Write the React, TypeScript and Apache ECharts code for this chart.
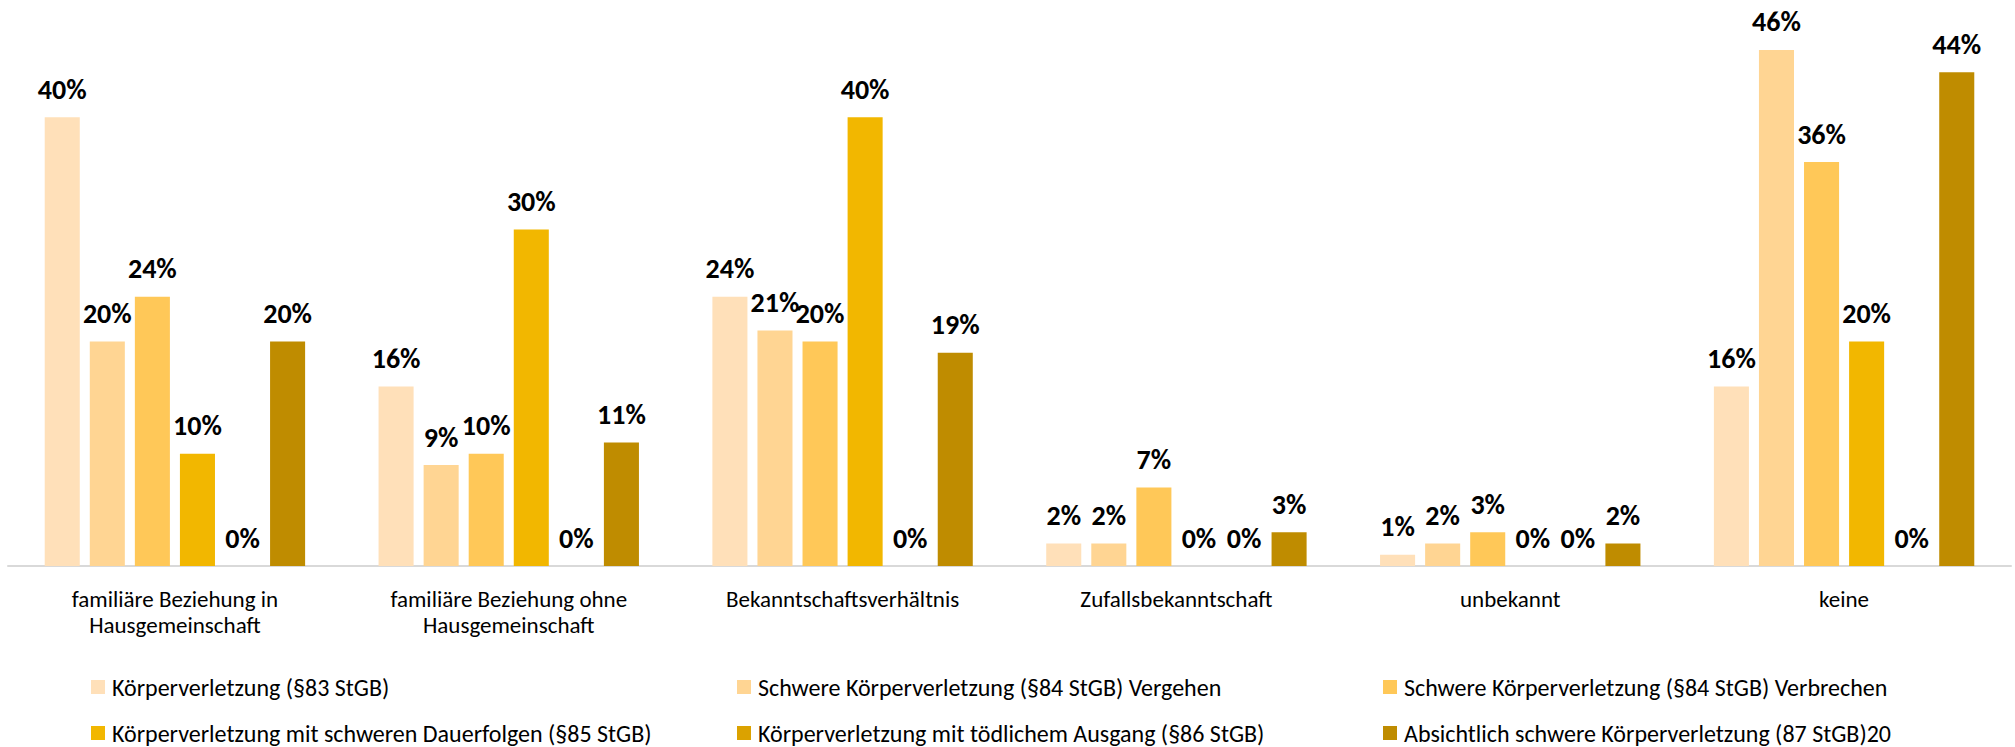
import React, { useEffect, useRef } from "react";
import * as echarts from "echarts";

const categories = [
  "familiäre Beziehung in\nHausgemeinschaft",
  "familiäre Beziehung ohne\nHausgemeinschaft",
  "Bekanntschaftsverhältnis",
  "Zufallsbekanntschaft",
  "unbekannt",
  "keine",
];

const seriesNames = [
  "Körperverletzung (§83 StGB)",
  "Schwere Körperverletzung (§84 StGB) Vergehen",
  "Schwere Körperverletzung (§84 StGB) Verbrechen",
  "Körperverletzung mit schweren Dauerfolgen (§85 StGB)",
  "Körperverletzung mit tödlichem Ausgang (§86 StGB)",
  "Absichtlich schwere Körperverletzung (87 StGB)20",
];

const s83 = [40, 16, 24, 2, 1, 16];
const s84Vergehen = [20, 9, 21, 2, 2, 46];
const s84Verbrechen = [24, 10, 20, 7, 3, 36];
const s85 = [10, 30, 40, 0, 0, 20];
const s86 = [0, 0, 0, 0, 0, 0];
const s87 = [20, 11, 19, 3, 2, 44];

const seriesValues = [s83, s84Vergehen, s84Verbrechen, s85, s86, s87];
const colors = ["#FFE0B9", "#FFD593", "#FFC858", "#F2B700", "#DBA200", "#BF8C00"];

const FONT = "Carlito, Calibri, Lato, 'Liberation Sans', sans-serif";

export default function App() {
  const ref = useRef<HTMLDivElement>(null);

  useEffect(() => {
    if (!ref.current) return;
    const chart = echarts.init(ref.current, undefined, { renderer: "svg" });

    const legendBase = {
      orient: "vertical" as const,
      top: 675,
      padding: 0,
      itemWidth: 14,
      itemHeight: 14,
      itemGap: 22,
      icon: "rect",
      selectedMode: false,
      textStyle: {
        fontFamily: FONT,
        fontSize: 24,
        lineHeight: 24,
        color: "#000",
        padding: [0, 0, 0, 2],
      },
    };

    chart.setOption({
      animation: false,
      color: colors,
      grid: { left: 8, right: 4, top: 5, bottom: 181, containLabel: false },
      legend: [
        { ...legendBase, left: 91, data: [seriesNames[0], seriesNames[3]] },
        { ...legendBase, left: 737, data: [seriesNames[1], seriesNames[4]] },
        { ...legendBase, left: 1383, data: [seriesNames[2], seriesNames[5]] },
      ],
      xAxis: {
        type: "category",
        data: categories,
        axisLine: { show: true, lineStyle: { color: "#D9D9D9", width: 2 } },
        axisTick: { show: false },
        axisLabel: {
          interval: 0,
          margin: 20,
          fontFamily: FONT,
          fontSize: 23,
          lineHeight: 26,
          color: "#000",
        },
      },
      yAxis: {
        type: "value",
        min: 0,
        max: 50,
        show: false,
        splitLine: { show: false },
      },
      series: seriesNames.map((name, i) => ({
        name,
        type: "bar",
        data: seriesValues[i],
        barGap: "28.6%",
        barCategoryGap: "22%",
        itemStyle: { color: colors[i] },
        label: {
          show: true,
          position: "top",
          distance: 14,
          formatter: "{c}%",
          fontFamily: FONT,
          fontWeight: "bold",
          fontSize: 28,
          color: "#000",
        },
      })),
    });

    return () => chart.dispose();
  }, []);

  return (
    <div
      ref={ref}
      style={{ position: "absolute", left: 0, top: 0, width: 2015, height: 747, background: "#fff" }}
    />
  );
}
